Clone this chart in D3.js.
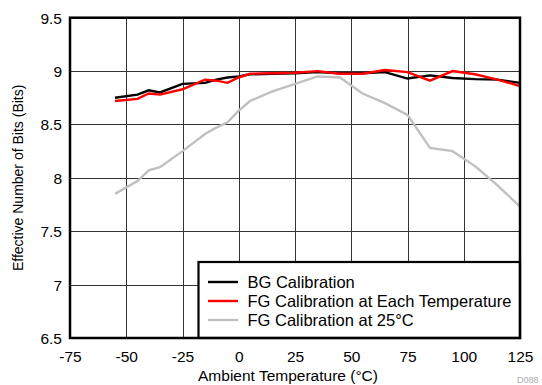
<!DOCTYPE html>
<html><head><meta charset="utf-8">
<script src="https://cdn.jsdelivr.net/npm/d3@7"></script>
<style>body{margin:0;background:#fff}svg{display:block}text{font-family:"Liberation Sans",Arial,sans-serif}</style>
</head><body>
<svg id="c" width="542" height="385"></svg>
<script>
const temps = [-55,-45,-40,-35,-25,-15,-10,-5,0,5,15,25,35,45,55,65,75,85,95,105,115,125];
const bgCal = [8.75,8.78,8.82,8.80,8.88,8.89,8.92,8.94,8.95,8.97,8.975,8.98,8.99,8.98,8.98,8.99,8.93,8.96,8.935,8.925,8.92,8.89];
const fgEach = [8.72,8.74,8.79,8.78,8.83,8.92,8.91,8.89,8.94,8.975,8.98,8.985,9.00,8.975,8.975,9.01,8.99,8.91,9.00,8.97,8.92,8.86];
const fg25 = [7.85,7.97,8.07,8.10,8.25,8.41,8.47,8.52,8.63,8.72,8.81,8.88,8.95,8.94,8.79,8.70,8.59,8.28,8.25,8.11,7.93,7.73];
const xTicks = [-75,-50,-25,0,25,50,75,100,125];
const yTicks = [6.5,7,7.5,8,8.5,9,9.5];
const seriesNames = ["BG Calibration","FG Calibration at Each Temperature","FG Calibration at 25°C"];
const seriesColors = ["#000000","#ff0000","#c0c0c0"];

const svg = d3.select("#c");
const L=70, R=520, T=17.7, B=338;
const x = d3.scaleLinear().domain([-75,125]).range([L,R]);
const y = d3.scaleLinear().domain([6.5,9.5]).range([B,T]);

// grid
const g = svg.append("g");
g.selectAll(".vg").data(xTicks).join("line")
  .attr("x1",d=>Math.round(x(d))+0.5).attr("x2",d=>Math.round(x(d))+0.5)
  .attr("y1",T).attr("y2",B).attr("stroke","#333").attr("stroke-width",1);
g.selectAll(".hg").data(yTicks).join("line")
  .attr("y1",d=>Math.round(y(d))+0.5).attr("y2",d=>Math.round(y(d))+0.5)
  .attr("x1",L).attr("x2",R).attr("stroke","#333").attr("stroke-width",1);

// axes (labels only)
const xAxis = d3.axisBottom(x).tickValues(xTicks).tickSize(0).tickPadding(0).tickFormat(d=>String(d));
const xa = svg.append("g").attr("transform",`translate(0,${B})`).call(xAxis);
xa.select(".domain").remove();
xa.selectAll("text").attr("font-size",15.5).attr("fill","#000").attr("dy",null).attr("y",24);

const yAxis = d3.axisLeft(y).tickValues(yTicks).tickSize(0).tickPadding(0).tickFormat(d=>String(d));
const ya = svg.append("g").attr("transform",`translate(62,0)`).call(yAxis);
ya.select(".domain").remove();
ya.selectAll("text").attr("font-size",15.5).attr("fill","#000").attr("x",0).attr("dy","0.35em");

// lines
const data = [bgCal, fgEach, fg25];
const line = d3.line().x((d,i)=>x(temps[i])).y(d=>y(d));
[2,0,1].forEach(k=>{
  svg.append("path").datum(data[k]).attr("d",line)
    .attr("fill","none").attr("stroke",seriesColors[k]).attr("stroke-width",2.4)
    .attr("stroke-linejoin","miter");
});

// legend
const lg = svg.append("g");
lg.append("rect").attr("x",198.5).attr("y",262).attr("width",R-198.5).attr("height",B-262)
  .attr("fill","#fff").attr("stroke","#000").attr("stroke-width",2.2);
seriesNames.forEach((n,i)=>{
  const yy = 282 + i*19;
  lg.append("line").attr("x1",208).attr("x2",238).attr("y1",yy).attr("y2",yy)
    .attr("stroke",seriesColors[i]).attr("stroke-width",2.4);
  lg.append("text").attr("x",247.5).attr("y",yy).attr("dy","0.35em").attr("font-size",16.5).text(n);
});

// frame
svg.append("rect").attr("x",L).attr("y",T).attr("width",R-L).attr("height",B-T)
  .attr("fill","none").attr("stroke","#000").attr("stroke-width",2.5);

// titles
svg.append("text").attr("x",288).attr("y",381).attr("text-anchor","middle").attr("font-size",15.5).text("Ambient Temperature (°C)");
svg.append("text").attr("transform",`translate(23,${(T+B)/2}) rotate(-90)`).attr("text-anchor","middle").attr("font-size",14).text("Effective Number of Bits (Bits)");
svg.append("text").attr("x",517).attr("y",383).attr("font-size",9).attr("fill","#aaa").text("D088");
</script>
</body></html>
